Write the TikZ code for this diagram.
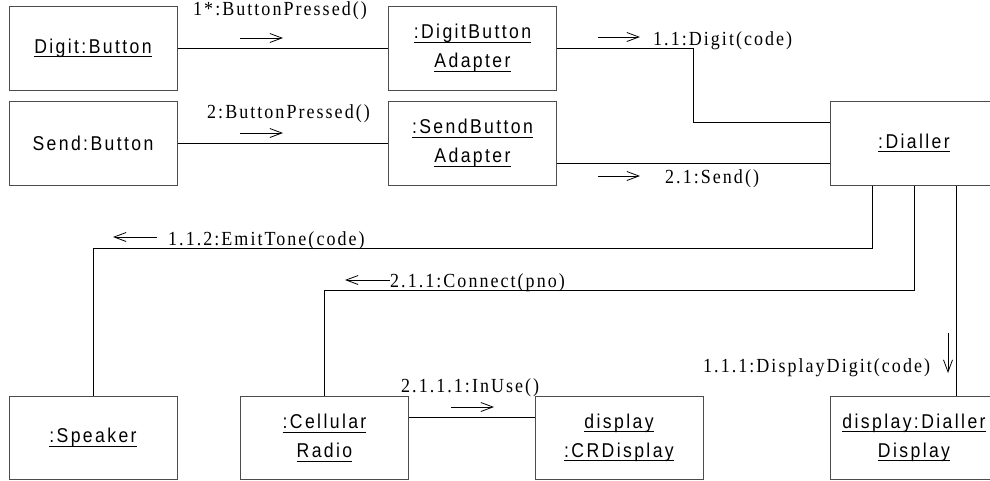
\documentclass[tikz,border=0pt]{standalone}
\usepackage{fontspec}
\usetikzlibrary{arrows.meta}
\newfontfamily\objfont[FakeStretch=0.88,LetterSpace=12]{Liberation Sans}
\newfontfamily\msgfont[FakeStretch=0.9,LetterSpace=10.2]{Liberation Serif}
% underline at a fixed depth, crossing descenders as in UML object names
\newcommand\objul[1]{\setbox0\hbox{#1}\rlap{\rule[-3.8pt]{\wd0}{0.9pt}}\box0}

\tikzset{
  obj/.style={draw=black!70, line width=1pt, minimum width=168pt, minimum height=84pt,
    inner sep=0pt, align=center, font=\objfont\fontsize{20}{29}\selectfont},
  link/.style={draw=black, line width=0.9pt},
  msg/.style={font=\msgfont\fontsize{20}{22}\selectfont, anchor=base west, inner sep=0pt},
  flow/.style={line width=0.8pt, -{Straight Barb[length=12pt,width=9pt]}}
}

\begin{document}
\begin{tikzpicture}[x=1pt,y=-1pt]
\useasboundingbox (0,0) rectangle (990,480);
\clip (0,0) rectangle (990,480);

% objects
\node[obj] (digit) at (93,48) {\objul{Digit:Button}};
\node[obj] (send) at (93,143) {Send:Button};
\node[obj] (dadapt) at (472.5,48) {\objul{:DigitButton}\\\objul{Adapter}};
\node[obj] (sadapt) at (472.5,143) {\objul{:SendButton}\\\objul{Adapter}};
\node[obj] (dialler) at (914,143) {\objul{:Dialler}};
\node[obj, minimum height=83.5pt] (speaker) at (93,437.75) {\objul{:Speaker}};
\node[obj, minimum height=83.5pt] (radio) at (324.5,437.75) {\objul{:Cellular}\\\objul{Radio}};
\node[obj, minimum height=83.5pt] (crdisp) at (619,437.75) {\objul{display}\\\objul{:CRDisplay}};
\node[obj, minimum height=83.5pt] (ddisp) at (914,437.75) {\objul{display:Dialler}\\\objul{Display}};

% links
\draw[link] (digit.east) -- (dadapt.west);
\draw[link] (send.east) -- (sadapt.west);
\draw[link] (dadapt.east) -- (693,48) -- (693,122) -- (dialler.west |- 0,122);
\draw[link] (sadapt.east |- 0,163) -- (dialler.west |- 0,163);
\draw[link] ([xshift=-42pt]dialler.south) -- ++(0,63) -| (speaker.north);
\draw[link] (dialler.south) -- ++(0,105) -| (radio.north);
\draw[link] ([xshift=42pt]dialler.south) -- ([xshift=42pt]ddisp.north);
\draw[link] (radio.east |- 0,417) -- (crdisp.west |- 0,417);

% messages
\node[msg] (m1) at (193,15) {1*:ButtonPressed()};
\draw[flow] (240,38) -- (283,38);
\node[msg] (m2) at (207,118) {2:ButtonPressed()};
\draw[flow] (240,133) -- (283,133);
\node[msg] (m11) at (653,45) {1.1:Digit(code)};
\draw[flow] (598,37) -- (640,37);
\node[msg] (m21) at (665,183) {2.1:Send()};
\draw[flow] (598,176) -- (640,176);
\node[msg] (m112) at (168,245) {1.1.2:EmitTone(code)};
\draw[flow] (157,237) -- (113,237);
\node[msg] (m211) at (390,287) {2.1.1:Connect(pno)};
\draw[flow] (390,280) -- (345,280);
\node[msg] (m2111) at (401,392) {2.1.1.1:InUse()};
\draw[flow] (451,407) -- (494,407);
\node[msg] (m111) at (703,372) {1.1.1:DisplayDigit(code)};
\draw[flow] (948,333) -- (948,373);
\end{tikzpicture}
\end{document}
